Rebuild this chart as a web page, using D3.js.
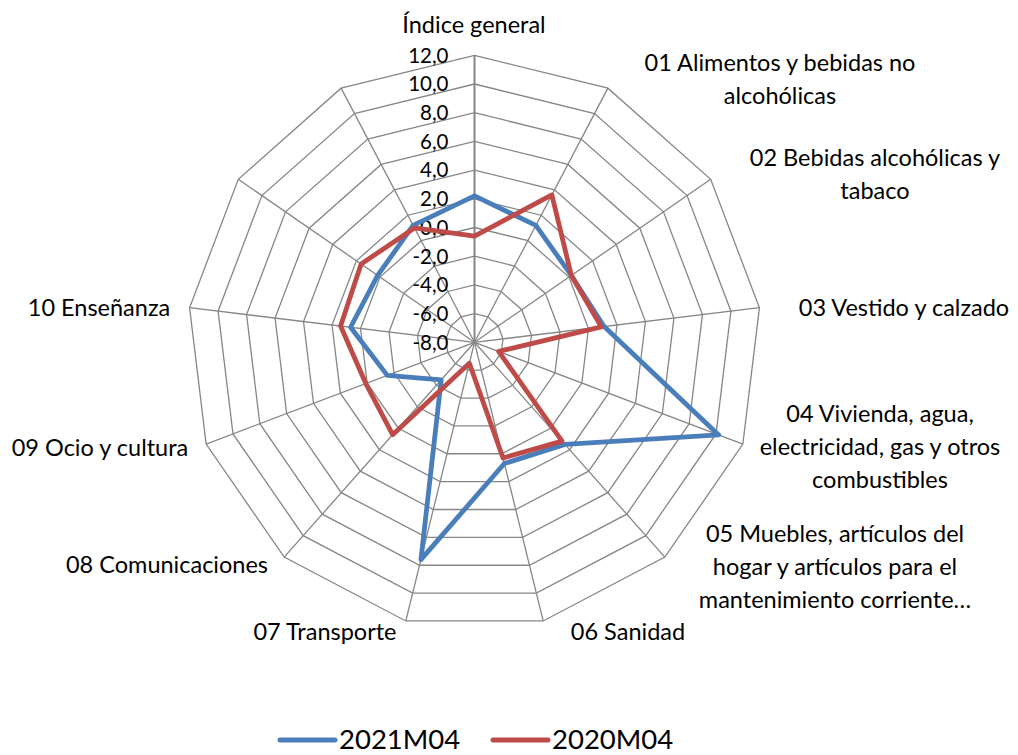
<!DOCTYPE html>
<html>
<head>
<meta charset="utf-8">
<script src="https://cdn.jsdelivr.net/npm/d3@7"></script>
<style>
	body { margin: 0; background: #fff; }
	svg { display: block; font-family: Lato, "Open Sans", sans-serif; }
</style>
</head>
<body>
<div id="chart"></div>
<script>
"use strict";

//---- Data
const categories = [
	"Índice general",
	"01 Alimentos y bebidas no alcohólicas",
	"02 Bebidas alcohólicas y tabaco",
	"03 Vestido y calzado",
	"04 Vivienda, agua, electricidad, gas y otros combustibles",
	"05 Muebles, artículos del hogar y artículos para el mantenimiento corriente del hogar",
	"06 Sanidad",
	"07 Transporte",
	"08 Comunicaciones",
	"09 Ocio y cultura",
	"10 Enseñanza",
	"11 Hoteles, cafés y restaurantes",
	"12 Otros bienes y servicios"
];

// text as it is wrapped on the chart (the last two axes carry no label)
const labelLines = [
	["Índice general"],
	["01 Alimentos y bebidas no", "alcohólicas"],
	["02 Bebidas alcohólicas y", "tabaco"],
	["03 Vestido y calzado"],
	["04 Vivienda, agua,", "electricidad, gas y otros", "combustibles"],
	["05 Muebles, artículos del", "hogar y artículos para el", "mantenimiento corriente…"],
	["06 Sanidad"],
	["07 Transporte"],
	["08 Comunicaciones"],
	["09 Ocio y cultura"],
	["10 Enseñanza"],
	[],
	[]
];

const seriesNames = ["2021M04", "2020M04"];
const values2021 = [2.2, 1.2, 0.2, 1.1, 10.2, 1.5, 0.7, 7.6, -4.5, -1.5, 0.7, 0.2, 1.2];
const values2020 = [-0.6, 3.6, 0.2, 0.9, -6.2, 1.2, 0.3, -6.5, 0.6, 0.1, 1.4, 1.6, 1.0];
const tickValues = [-8, -6, -4, -2, 0, 2, 4, 6, 8, 10, 12];

//---- Layout
const width = 1018, height = 755;
const cx = 474.5, cy = 342.3, radius = 287;
const colors = ["#4A7EBB", "#BE4B48"];
const gridColor = "#868686";

// label anchors: [centre x, first line centre y]
const labelAt = [
	[474, 25], [780, 63], [875, 158], [904, 308], [880, 414], [835, 534],
	[628, 632], [325, 632], [167, 565], [100, 448], [99, 308], null, null
];
const lineStep = 33;

const fmt = d3.formatLocale({ decimal: ",", thousands: ".", grouping: [3], currency: ["", " €"], minus: "-" }).format(".1f");

const r = d3.scaleLinear().domain([-8, 12]).range([0, radius]);
const angle = d3.scaleLinear().domain([0, categories.length]).range([0, 2 * Math.PI]);

const svg = d3.select("#chart").append("svg")
	.attr("width", width)
	.attr("height", height)
	.attr("viewBox", [0, 0, width, height]);

const g = svg.append("g").attr("transform", `translate(${cx},${cy})`);

//---- Grid
const ring = v => d3.lineRadial()
	.angle((d, i) => angle(i))
	.radius(r(v))
	.curve(d3.curveLinearClosed)(categories);

g.selectAll(".ring")
	.data(tickValues.filter(t => t > -8))
	.join("path")
	.attr("d", ring)
	.attr("fill", "none")
	.attr("stroke", gridColor)
	.attr("stroke-width", 1.3);

g.selectAll(".spoke")
	.data(categories)
	.join("line")
	.attr("x1", 0).attr("y1", 0)
	.attr("x2", (d, i) => r(12) * Math.sin(angle(i)))
	.attr("y2", (d, i) => -r(12) * Math.cos(angle(i)))
	.attr("stroke", gridColor)
	.attr("stroke-width", (d, i) => i === 0 ? 2 : 1.3);

//---- Value axis labels
g.selectAll(".tick")
	.data(tickValues)
	.join("text")
	.attr("x", -26)
	.attr("y", d => -r(d))
	.attr("dy", "0.36em")
	.attr("text-anchor", "end")
	.attr("font-size", 20.5)
	.attr("fill", "#000")
	.text(d => fmt(d));

//---- Series
const line = d3.lineRadial()
	.angle((d, i) => angle(i))
	.radius(d => r(d))
	.curve(d3.curveLinearClosed);

[values2021, values2020].forEach((vals, k) => {
	g.append("path")
		.attr("d", line(vals))
		.attr("fill", "none")
		.attr("stroke", colors[k])
		.attr("stroke-width", 4.8)
		.attr("stroke-linejoin", "round");
});

//---- Category labels
labelLines.forEach((lines, i) => {
	if (!labelAt[i]) return;
	const t = svg.append("text")
		.attr("text-anchor", "middle")
		.attr("font-size", 23.5)
		.attr("fill", "#000");
	lines.forEach((ln, j) => {
		t.append("tspan")
			.attr("x", labelAt[i][0])
			.attr("y", labelAt[i][1] + j * lineStep)
			.attr("dy", "0.36em")
			.text(ln);
	});
});

//---- Legend
const legendAt = [280, 493];
seriesNames.forEach((name, k) => {
	const lg = svg.append("g").attr("transform", `translate(${legendAt[k]},740)`);
	lg.append("line")
		.attr("x1", 0).attr("x2", 55)
		.attr("stroke", colors[k])
		.attr("stroke-width", 5)
		.attr("stroke-linecap", "round");
	lg.append("text")
		.attr("x", 59)
		.attr("y", 9)
		.attr("font-size", 27.5)
		.attr("fill", "#000")
		.text(name);
});
</script>
</body>
</html>
